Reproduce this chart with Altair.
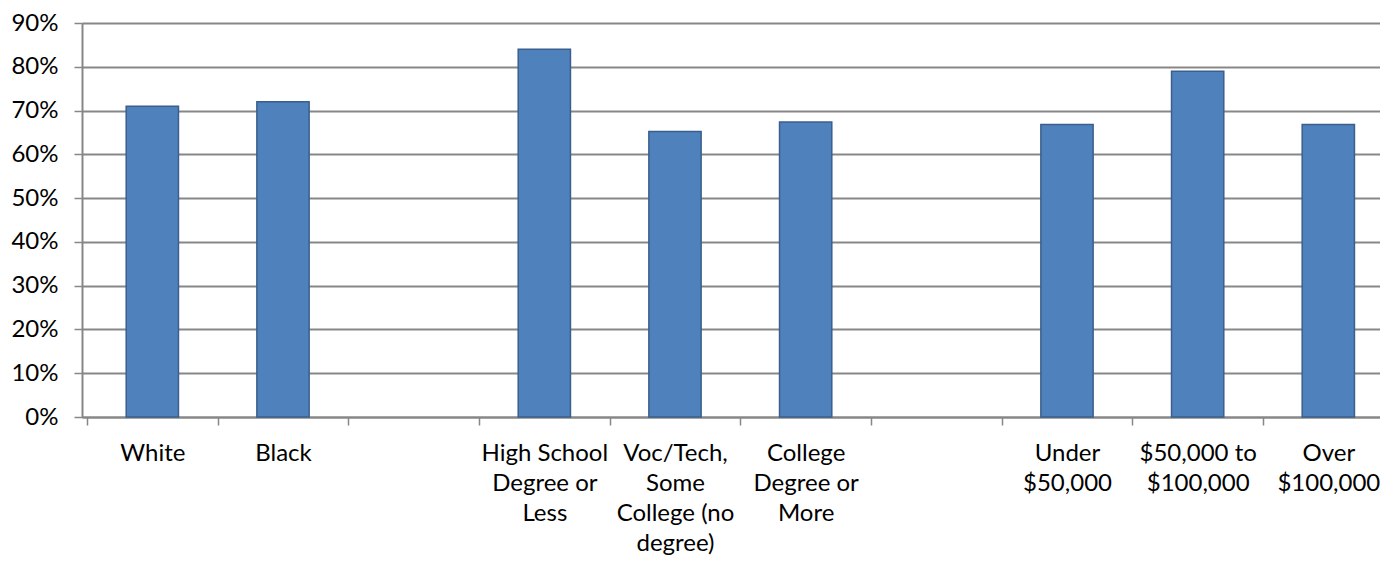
import json
import altair as alt
import pandas as pd

# category slots along the x axis (blank slots separate the groups)
categories = ["White", "Black", "", "High School|Degree or|Less",
              "Voc/Tech,|Some|College (no|degree)", "College|Degree or|More",
              "", "Under|$50,000", "$50,000 to|$100,000", "Over|$100,000"]
bar_slots = [0, 1, 3, 4, 5, 7, 8, 9]
values = [0.71, 0.72, 0.84, 0.652, 0.674, 0.668, 0.79, 0.668]
y_ticks = [0.0, 0.1, 0.2, 0.3, 0.4, 0.5, 0.6, 0.7, 0.8, 0.9]

df = pd.DataFrame({
    "label": [categories[i] for i in bar_slots],
    "slot": bar_slots,
    "val": values,
})

FONT = "Lato"
FS = 24
GRID = "#878787"
PLOT_W = 1298
n_visible = PLOT_W / 131.68  # visible part of the 10 category slots

tick_vals = [i * 0.5 for i in range(0, 20)]
labels_js = json.dumps(categories)

chart = alt.Chart(df).transform_calculate(
    x0="datum.slot + 0.3", x1="datum.slot + 0.7"
).mark_bar(
    color="#4F81BD", stroke="#3A5F8C", strokeWidth=1.5, orient="vertical"
).encode(
    x=alt.X("x0:Q",
            scale=alt.Scale(domain=[0, n_visible], nice=False, zero=False),
            axis=alt.Axis(title=None, values=tick_vals, labelAngle=0,
                          labelExpr=f"datum.value % 1 == 0 ? '' : split({labels_js}[floor(datum.value)], '|')",
                          labelFont=FONT, labelFontSize=FS, labelColor="#000000",
                          labelLineHeight=30, labelPadding=16, labelBaseline="top",
                          labelOverlap=False, labelFlush=False, labelBound=False,
                          tickColor=GRID, tickSize=8, tickWidth=1.5,
                          tickOpacity={"condition": {"test": "datum.value % 1 != 0", "value": 0}, "value": 1},
                          domainColor=GRID, domainWidth=2, grid=False)),
    x2="x1:Q",
    y=alt.Y("val:Q", scale=alt.Scale(domain=[0, 0.9], nice=False),
            axis=alt.Axis(title=None, format=".0%", values=y_ticks,
                          labelFont=FONT, labelFontSize=FS, labelColor="#000000",
                          labelPadding=16, tickColor=GRID, tickSize=8, tickWidth=1.5,
                          domainColor=GRID, domainWidth=2,
                          grid=True, gridColor=GRID, gridWidth=2, gridOpacity=1)),
    y2=alt.datum(0),
).properties(
    width=PLOT_W, height=394,
    autosize=alt.AutoSizeParams(type="none"),
    padding={"left": 74, "top": 15, "right": 0, "bottom": 139},
).configure_view(
    fill="#E6E6E6", stroke=None
).configure(background="white")

chart.save("out.html", embed_options={"renderer": "svg", "actions": False})
